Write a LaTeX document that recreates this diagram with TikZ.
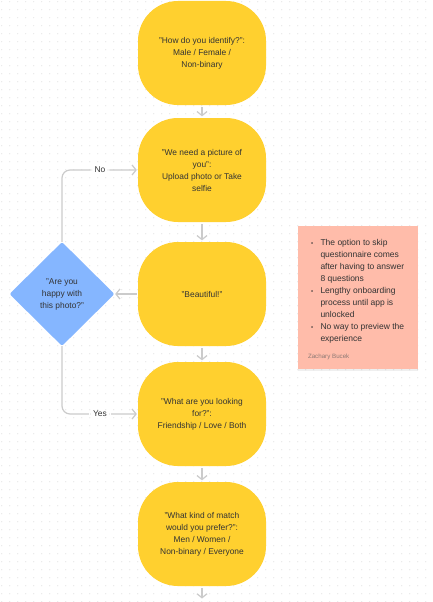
\documentclass[tikz,border=0pt]{standalone}
\usepackage{fontspec}
\setmainfont{Liberation Sans}
\usepackage{tikz}
\usetikzlibrary{positioning}
\usetikzlibrary{arrows.meta}
\usetikzlibrary{shapes.geometric,shadows}
\definecolor{boxyellow}{HTML}{FFD02F}
\definecolor{askblue}{HTML}{85B6FF}
\definecolor{notepink}{HTML}{FFBCAA}
\definecolor{linegrey}{HTML}{CBCBCB}
\definecolor{inkgrey}{HTML}{333333}
\definecolor{dotgrey}{HTML}{E4E4E4}
\definecolor{authorgrey}{HTML}{8E7A75}
\newcommand{\notedot}{\makebox[10pt][l]{\hspace{0.5pt}{\fontsize{6}{6}\selectfont\textbullet}}}

\begin{document}
\begin{tikzpicture}[x=1pt,y=-1pt,node distance=120pt,on grid,
   screen/.style={fill=boxyellow,rounded corners=40pt,minimum width=128pt,minimum height=104pt,inner sep=0pt,align=center,text=inkgrey,font=\fontsize{8.4}{12}\selectfont},
   ask/.style={diamond,fill=askblue,rounded corners=2pt,minimum width=105pt,minimum height=104pt,inner sep=0pt,align=center,text=inkgrey,font=\fontsize{8.4}{12}\selectfont},
   flow/.style={draw=linegrey,line width=1.2pt,-{Straight Barb[length=4pt,width=10pt]}},
   answer/.style={fill=white,inner xsep=4pt,inner ysep=1pt,text=inkgrey,font=\fontsize{8.4}{12}\selectfont},
   note/.style={fill=notepink,minimum width=120pt,minimum height=143pt,inner sep=0pt,drop shadow={opacity=0.12,shadow xshift=0pt,shadow yshift=-2pt}}]
   \useasboundingbox[fill=white] (0,0) rectangle (433,602);
   \foreach \x in {0,...,53}
      \foreach \y in {0,...,75}
         \fill[dotgrey] (1.7+8*\x,1.7+8*\y) circle (0.6pt);

   \node[screen] (q_gender) at (202,53) {"How do you identify?":\\Male / Female /\\Non-binary};
   \node[screen] (q_photo) [below=117pt of q_gender] {"We need a picture of\\you":\\Upload photo or Take\\selfie};
   \node[screen] (beautiful) [below=124pt of q_photo] {"Beautiful!"};
   \node[screen] (q_looking) [below=of beautiful] {"What are you looking\\for?":\\Friendship / Love / Both};
   \node[screen] (q_match) [below=of q_looking] {"What kind of match\\would you prefer?":\\Men / Women /\\Non-binary / Everyone};
   \coordinate[below=66pt of q_match] (q_next);
   \node[ask] (q_happy) [left=140pt of beautiful] {"Are you\\happy with\\this photo?"};

   \node[note] (note) at (358,297.5) {};
   \node[anchor=north west,inner sep=0pt,text=inkgrey,font=\fontsize{8.5}{12}\selectfont] (note_text)
      at ([shift={(12.5pt,-11pt)}]note.north west) {%
      \begin{tabular}{@{}l@{}l@{}}
      \notedot & The option to skip\\
       & questionnaire comes\\
       & after having to answer\\
       & 8 questions\\
      \notedot & Lengthy onboarding\\
       & process until app is\\
       & unlocked\\
      \notedot & No way to preview the\\
       & experience
      \end{tabular}};
   \node[anchor=base west,inner sep=0pt,text=authorgrey,font=\fontsize{6.2}{7}\selectfont] (note_author)
      at ([shift={(10pt,11pt)}]note.south west) {Zachary Bucek};

   \path[flow,shorten <=2pt,shorten >=1.5pt]
    (q_gender) edge (q_photo)
    (q_photo) edge (beautiful)
    (beautiful) edge (q_looking)
    (q_looking) edge (q_match)
    (q_match) edge (q_next);
   \draw[flow,shorten <=1pt,shorten >=0.5pt] (beautiful.west) -- (q_happy.east);
   \draw[flow,rounded corners=8pt,shorten >=1pt] (q_happy.north) |- node[answer,pos=0.75] {No} (q_photo.west);
   \draw[flow,rounded corners=8pt,shorten >=1pt] (q_happy.south) |- node[answer,pos=0.75] {Yes} (q_looking.west);
\end{tikzpicture}
\end{document}
